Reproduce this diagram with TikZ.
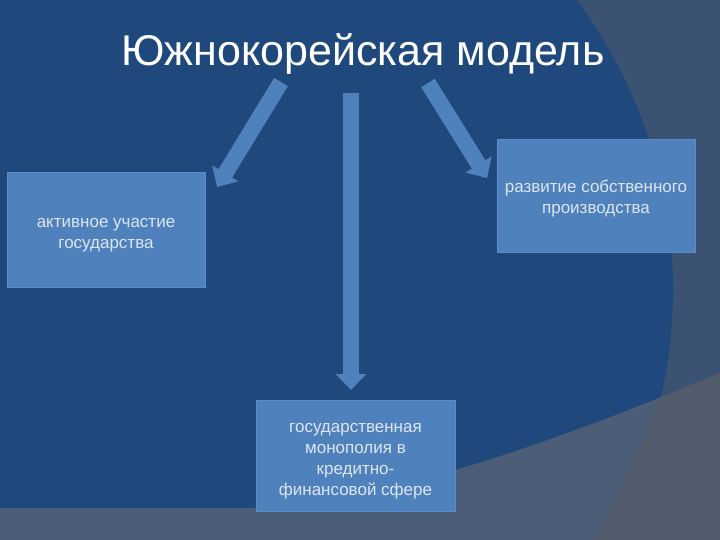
\documentclass[tikz,border=0pt]{standalone}
\usepackage{fontspec}
\setmainfont{Liberation Sans}
\usetikzlibrary{arrows.meta}
\definecolor{bgdark}{HTML}{1F497D}
\definecolor{bgside}{HTML}{3C5272}
\definecolor{bglow}{HTML}{4B5D77}
\definecolor{bglowright}{HTML}{515B6B}
\definecolor{boxfill}{HTML}{4F81BD}
\definecolor{boxline}{HTML}{5C8DC8}
\definecolor{boxtext}{HTML}{DCE6F2}
\newcommand{\boxlines}[2]{\raisebox{-#1pt}[0pt][0pt]{\begin{tabular}{@{}c@{}}#2\end{tabular}}}
\begin{document}
\begin{tikzpicture}[x=1pt,y=-1pt,
  box/.style={rectangle, fill=boxfill, draw=boxline, line width=1pt, inner sep=0pt,
    text=boxtext, font=\fontsize{17}{21}\selectfont},
  blockarrow/.style={line width=16pt, draw=boxfill, -{Triangle[width=30pt,length=16pt]}}]
\useasboundingbox (0,0) rectangle (720,540);
\clip (0,0) rectangle (720,540);
\fill[bgside] (0,0) rectangle (720,540);
\fill[bgdark] (154,290) ellipse [x radius=519pt, y radius=500pt];
\begin{scope}
  \clip (0,508) -- (250,508) .. controls (380,505) and (560,440) .. (720,373) -- (720,540) -- (0,540) -- cycle;
  \fill[bglow] (0,300) rectangle (720,540);
  \fill[bglowright] (672,360) -- (660,395) .. controls (640,445) and (620,495) .. (593,540) -- (720,540) -- (720,360) -- cycle;
\end{scope}

\node[font=\fontsize{43}{50}\selectfont, text=white, anchor=base] (title) at (363,66) {Южнокорейская модель};

\node[box, minimum width=198pt, minimum height=114pt] (lbox) at (106,230) {\boxlines{8.5}{активное участие\\государства}};
\node[box, minimum width=198pt, minimum height=112pt] (rbox) at (596,196) {\boxlines{7}{развитие собственного\\производства}};
\node[box, minimum width=199pt, minimum height=111pt] (bbox) at (355.5,456) {\boxlines{8.5}{государственная\\монополия в\\кредитно-\\финансовой сфере}};

\coordinate (a1s) at (281,82);
\coordinate (a1e) at (217,187);
\coordinate (a2s) at (351,93);
\coordinate (a2e) at (351,390);
\coordinate (a3s) at (428,83);
\coordinate (a3e) at (487,178);
\draw[blockarrow] (a1s) -- (a1e);
\draw[blockarrow] (a2s) -- (a2e);
\draw[blockarrow] (a3s) -- (a3e);
\end{tikzpicture}
\end{document}
